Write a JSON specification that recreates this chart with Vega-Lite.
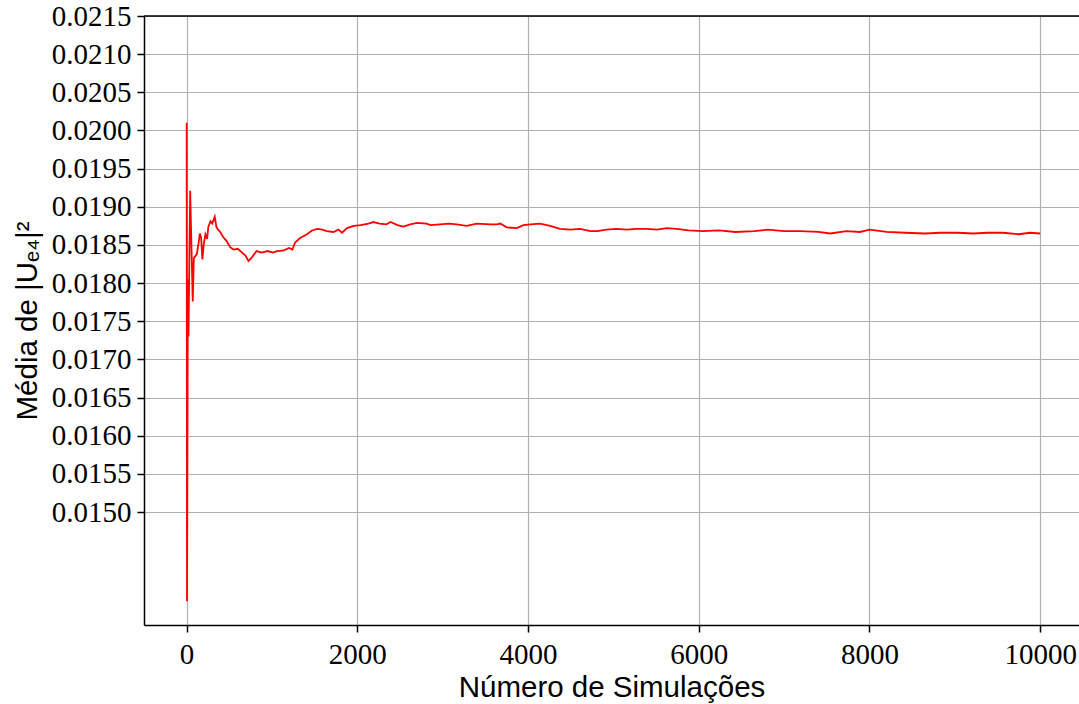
{
  "$schema": "https://vega.github.io/schema/vega-lite/v6.json",
  "autosize": "none",
  "width": 935,
  "height": 609,
  "padding": {"left": 144, "top": 16, "right": 0, "bottom": 79},
  "background": "white",
  "config": {
    "view": {"stroke": null},
    "axis": {
      "labelFont": "Liberation Serif",
      "labelFontSize": 29,
      "labelColor": "black",
      "titleFont": "Liberation Sans",
      "titleFontSize": 29.5,
      "titleFontWeight": "normal",
      "titleColor": "black",
      "domainColor": "black",
      "domainWidth": 1.5,
      "tickColor": "black",
      "tickWidth": 1.5,
      "tickSize": 7,
      "gridColor": "#b0b0b0",
      "gridWidth": 1.2
    }
  },
  "layer": [
    {
      "data": {
        "values": [
          {"n": 1, "m": 0.02010},
          {"n": 5, "m": 0.01383},
          {"n": 15, "m": 0.01805},
          {"n": 22, "m": 0.01730},
          {"n": 42, "m": 0.01921},
          {"n": 72, "m": 0.01776},
          {"n": 85, "m": 0.01833},
          {"n": 100, "m": 0.01835},
          {"n": 120, "m": 0.01838},
          {"n": 140, "m": 0.01852},
          {"n": 155, "m": 0.01865},
          {"n": 170, "m": 0.01860},
          {"n": 185, "m": 0.01831},
          {"n": 200, "m": 0.01850},
          {"n": 220, "m": 0.01864},
          {"n": 240, "m": 0.01858},
          {"n": 255, "m": 0.01874},
          {"n": 280, "m": 0.01881},
          {"n": 300, "m": 0.01878},
          {"n": 330, "m": 0.01887},
          {"n": 350, "m": 0.01873},
          {"n": 370, "m": 0.01870},
          {"n": 400, "m": 0.01866},
          {"n": 430, "m": 0.01860},
          {"n": 470, "m": 0.01855},
          {"n": 510, "m": 0.01847},
          {"n": 550, "m": 0.01844},
          {"n": 600, "m": 0.01845},
          {"n": 650, "m": 0.01840},
          {"n": 690, "m": 0.01836},
          {"n": 725, "m": 0.01829},
          {"n": 760, "m": 0.01833},
          {"n": 820, "m": 0.01842},
          {"n": 880, "m": 0.01840},
          {"n": 950, "m": 0.01842},
          {"n": 1010, "m": 0.01840},
          {"n": 1060, "m": 0.01842},
          {"n": 1140, "m": 0.01843},
          {"n": 1200, "m": 0.01846},
          {"n": 1240, "m": 0.01844},
          {"n": 1270, "m": 0.01853},
          {"n": 1330, "m": 0.01859},
          {"n": 1410, "m": 0.01864},
          {"n": 1470, "m": 0.01869},
          {"n": 1530, "m": 0.01871},
          {"n": 1590, "m": 0.01870},
          {"n": 1640, "m": 0.01868},
          {"n": 1720, "m": 0.01867},
          {"n": 1780, "m": 0.01870},
          {"n": 1820, "m": 0.01866},
          {"n": 1880, "m": 0.01872},
          {"n": 1960, "m": 0.01875},
          {"n": 2040, "m": 0.01876},
          {"n": 2130, "m": 0.01878},
          {"n": 2190, "m": 0.01880},
          {"n": 2260, "m": 0.01878},
          {"n": 2340, "m": 0.01877},
          {"n": 2390, "m": 0.01880},
          {"n": 2470, "m": 0.01876},
          {"n": 2540, "m": 0.01874},
          {"n": 2620, "m": 0.01877},
          {"n": 2700, "m": 0.01879},
          {"n": 2810, "m": 0.01878},
          {"n": 2860, "m": 0.01876},
          {"n": 2970, "m": 0.01877},
          {"n": 3070, "m": 0.01878},
          {"n": 3165, "m": 0.01877},
          {"n": 3280, "m": 0.01875},
          {"n": 3400, "m": 0.01878},
          {"n": 3560, "m": 0.01877},
          {"n": 3635, "m": 0.01877},
          {"n": 3675, "m": 0.01878},
          {"n": 3750, "m": 0.01873},
          {"n": 3870, "m": 0.01872},
          {"n": 3945, "m": 0.01876},
          {"n": 4025, "m": 0.01877},
          {"n": 4140, "m": 0.01878},
          {"n": 4260, "m": 0.01875},
          {"n": 4375, "m": 0.01871},
          {"n": 4495, "m": 0.01870},
          {"n": 4610, "m": 0.01871},
          {"n": 4730, "m": 0.01868},
          {"n": 4810, "m": 0.01868},
          {"n": 4920, "m": 0.01870},
          {"n": 5040, "m": 0.01871},
          {"n": 5155, "m": 0.01870},
          {"n": 5270, "m": 0.01871},
          {"n": 5390, "m": 0.01871},
          {"n": 5510, "m": 0.01870},
          {"n": 5625, "m": 0.01872},
          {"n": 5740, "m": 0.01871},
          {"n": 5880, "m": 0.01869},
          {"n": 6050, "m": 0.01868},
          {"n": 6240, "m": 0.01869},
          {"n": 6430, "m": 0.01867},
          {"n": 6650, "m": 0.01868},
          {"n": 6810, "m": 0.01870},
          {"n": 7000, "m": 0.01868},
          {"n": 7190, "m": 0.01868},
          {"n": 7400, "m": 0.01867},
          {"n": 7540, "m": 0.01865},
          {"n": 7730, "m": 0.01868},
          {"n": 7890, "m": 0.01867},
          {"n": 8000, "m": 0.01870},
          {"n": 8200, "m": 0.01867},
          {"n": 8420, "m": 0.01866},
          {"n": 8650, "m": 0.01865},
          {"n": 8830, "m": 0.01866},
          {"n": 9030, "m": 0.01866},
          {"n": 9220, "m": 0.01865},
          {"n": 9380, "m": 0.01866},
          {"n": 9560, "m": 0.01866},
          {"n": 9750, "m": 0.01864},
          {"n": 9880, "m": 0.01866},
          {"n": 10000, "m": 0.01865}
        ]
      },
      "mark": {"type": "line", "color": "#ff0000", "strokeWidth": 1.8},
      "encoding": {
        "x": {
          "field": "n",
          "type": "quantitative",
          "scale": {"domain": [-499, 10455], "nice": false, "zero": false},
          "axis": {
            "values": [0, 2000, 4000, 6000, 8000, 10000],
            "format": "d",
            "title": "Número de Simulações",
            "labelPadding": 8,
            "titlePadding": 4,
            "labelFlush": false
          }
        },
        "y": {
          "field": "m",
          "type": "quantitative",
          "scale": {"domain": [0.01352, 0.0215], "nice": false, "zero": false},
          "axis": {
            "values": [0.015, 0.0155, 0.016, 0.0165, 0.017, 0.0175, 0.018, 0.0185, 0.019, 0.0195, 0.02, 0.0205, 0.021, 0.0215],
            "format": ".4f",
            "title": "Média de |Uₑ₄|²",
            "labelPadding": 6,
            "titlePadding": 9,
            "labelFlush": false
          }
        }
      }
    },
    {
      "data": {"values": [{}]},
      "mark": {"type": "rule", "color": "black", "strokeWidth": 1.5},
      "encoding": {"y": {"datum": 0.0215}}
    }
  ]
}
